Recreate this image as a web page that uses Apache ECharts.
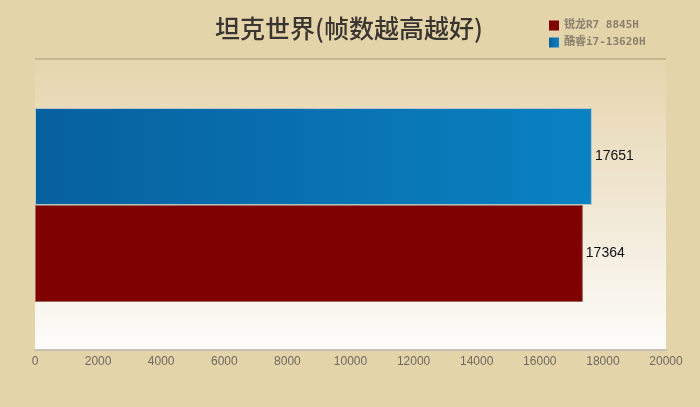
<!DOCTYPE html>
<html><head><meta charset="utf-8">
<script src="https://cdn.jsdelivr.net/npm/echarts@6/dist/echarts.min.js"></script>
<style>html,body{margin:0;padding:0;background:#e4d4aa;}#c{width:700px;height:407px;}</style>
</head><body><div id="c"></div>
<script>
const titleText = '坦克世界(帧数越高越好)';
const categories = ['坦克世界'];
const seriesNames = ['锐龙R7 8845H', '酷睿i7-13620H'];
const amdValues = [17364];
const intelValues = [17651];
const xTicks = [0, 2000, 4000, 6000, 8000, 10000, 12000, 14000, 16000, 18000, 20000];

const labelStyle = {show: true, position: 'right', distance: 3, color: '#111', fontSize: 14, fontFamily: 'Liberation Sans'};
const chart = echarts.init(document.getElementById('c'));
chart.setOption({
  backgroundColor: '#e4d4aa',
  animation: false,
  title: {
    text: titleText, left: 344, top: 11, textAlign: 'center',
    textStyle: {fontSize: 25, fontWeight: 500, color: '#3a3530', fontFamily: 'Noto Sans CJK SC'}
  },
  legend: {
    orient: 'vertical', left: 544, top: 15, itemGap: 6,
    itemWidth: 10, itemHeight: 10, icon: 'rect',
    itemStyle: {borderWidth: 0},
    textStyle: {fontSize: 11, fontWeight: 'bold', color: '#8a806e', fontFamily: 'DejaVu Sans Mono, Noto Sans CJK SC'},
    data: seriesNames
  },
  graphic: [{
    type: 'line', shape: {x1: 35, y1: 59, x2: 666, y2: 59},
    style: {stroke: '#a89a78', lineWidth: 1.2}
  }],
  grid: {
    left: 35, right: 34, top: 60, bottom: 57, show: true, borderWidth: 0,
    backgroundColor: new echarts.graphic.LinearGradient(0, 0, 0, 1, [
      {offset: 0, color: '#e6d5ad'}, {offset: 0.5, color: '#f1e8d4'}, {offset: 1, color: '#fefdfb'}
    ])
  },
  xAxis: {
    type: 'value', min: 0, max: 20000, interval: 2000,
    axisLine: {show: true, lineStyle: {color: '#c8c2b4', width: 2}},
    axisTick: {show: false}, splitLine: {show: false},
    axisLabel: {color: '#6e6a60', fontSize: 12, margin: 6, fontFamily: 'Liberation Sans',
      formatter: v => xTicks.includes(v) ? String(v) : ''}
  },
  yAxis: {
    type: 'category', data: categories,
    axisLine: {show: false}, axisTick: {show: false}, axisLabel: {show: false}
  },
  series: [{
    name: seriesNames[1], type: 'bar', data: intelValues, barWidth: 97, barGap: '0%',
    itemStyle: {
      color: new echarts.graphic.LinearGradient(0, 0, 1, 0, [
        {offset: 0, color: '#07609e'}, {offset: 1, color: '#0a82c2'}
      ]),
      borderColor: '#b9c4c8', borderWidth: 1
    },
    label: labelStyle
  }, {
    name: seriesNames[0], type: 'bar', data: amdValues, barWidth: 97, barGap: '0%',
    itemStyle: {color: '#7f0000', borderColor: '#9a6a5a', borderWidth: 1},
    label: labelStyle
  }]
});
</script></body></html>
